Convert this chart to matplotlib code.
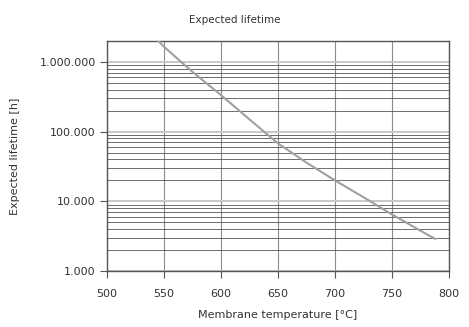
import matplotlib
matplotlib.use('Agg')
import matplotlib.pyplot as plt
from matplotlib.ticker import FuncFormatter, LogLocator, MultipleLocator

# Data
temperature = [545, 550, 575, 600, 625, 650, 675, 700, 725, 750, 775, 788]
lifetime = [2.0e6, 1.65e6, 7.2e5, 3.35e5, 1.5e5, 6.8e4, 3.6e4, 2.0e4, 1.15e4, 6.5e3, 3.8e3, 2.9e3]

plt.rcParams['font.family'] = ['DejaVu Sans']

fig = plt.figure(figsize=(4.69, 3.27), dpi=100)
ax = fig.add_axes([0.228, 0.171, 0.729, 0.704])

ax.plot(temperature, lifetime, color='#a0a0a0', linewidth=1.5, zorder=3)

ax.set_yscale('log')
ax.set_xlim(500, 800)
ax.set_ylim(1000, 2.0e6)

ax.xaxis.set_major_locator(MultipleLocator(50))
ax.yaxis.set_major_locator(LogLocator(base=10))
ax.yaxis.set_minor_locator(LogLocator(base=10, subs=range(2, 10)))


def dotted_thousands(v, pos):
    return f'{int(round(v)):,}'.replace(',', '.')


ax.yaxis.set_major_formatter(FuncFormatter(dotted_thousands))
ax.yaxis.set_minor_formatter(FuncFormatter(lambda v, p: ''))

ax.grid(True, which='major', axis='x', color='#8c8c8c', linewidth=0.8)
ax.grid(True, which='major', axis='y', color='#c8c8c8', linewidth=1.4)
ax.grid(True, which='minor', axis='y', color='#555555', linewidth=0.6)

for s in ax.spines.values():
    s.set_color('#555555')
    s.set_linewidth(1.0)

ax.tick_params(axis='both', which='major', labelsize=8, colors='#555555',
               labelcolor='#333333', length=5, direction='out')
ax.tick_params(axis='x', pad=8)
ax.tick_params(axis='y', pad=3)
ax.tick_params(axis='y', which='minor', length=0)

fig.text(0.5, 0.94, 'Expected lifetime', fontsize=7.5, color='#333333',
         ha='center', va='center')
ax.set_xlabel('Membrane temperature [°C]', fontsize=8, color='#333333', labelpad=8)
ax.set_ylabel('Expected lifetime [h]', fontsize=8, color='#333333', labelpad=14)

fig.savefig('out.png', dpi=100)
